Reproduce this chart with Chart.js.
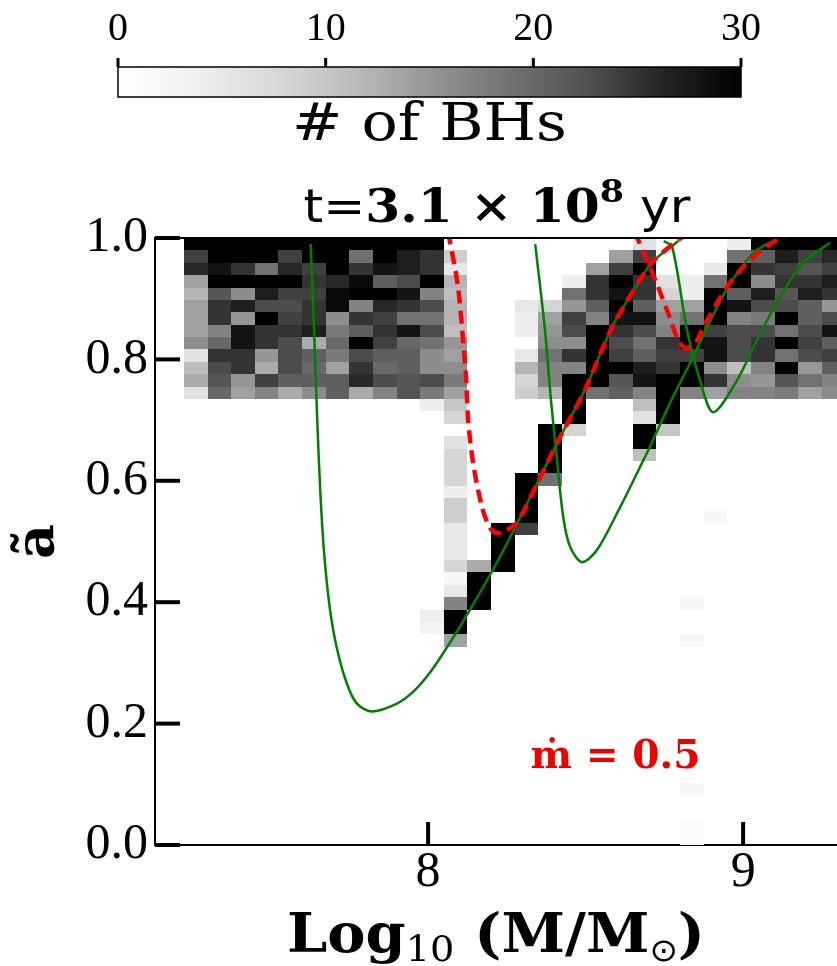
<!DOCTYPE html>
<html>
<head>
<meta charset="utf-8">
<script src="https://cdn.jsdelivr.net/npm/chart.js@4.4.1/dist/chart.umd.min.js"></script>
<style>
  html, body { margin: 0; padding: 0; background: #fff; }
  #wrap { position: relative; width: 837px; height: 966px; }
  #wrap canvas { position: absolute; left: 0; top: 0; }
</style>
</head>
<body>
<div id="wrap">
  <canvas id="graph" width="837" height="966"></canvas>
  <canvas id="cbar" width="837" height="165"></canvas>
</div>
<script>
// mass bins (log10 M/Msun), left edges, width 0.075
const massBins = [7.225, 7.3, 7.375, 7.45, 7.525, 7.6, 7.675, 7.75, 7.825, 7.9, 7.975, 8.05, 8.125, 8.2,
  8.275, 8.35, 8.425, 8.5, 8.575, 8.65, 8.725, 8.8, 8.875, 8.95, 9.025, 9.1, 9.175, 9.25];
const massStep = 0.075;
const spinStep = 1 / 49; // 49 spin bins between 0 and 1

// # of BHs per cell, spin bins 48 (top) down to 36, one column per mass bin
const topBin = 48;
const countsTop = [
  [30,30,30,30,30,30,30,30,30,30,30, 0, 0,0, 0, 0, 0, 0, 0, 6, 0, 0, 0, 4,30,30,30,30],
  [24,30,30,30,24,30,30,19,30,27,25, 9, 0,0, 0, 0, 0, 0,14,24, 0, 0, 0,19,21,27,24,26],
  [26,28,25,19,26,24,30,25,28,27,25, 5, 0,0, 0, 0, 0,14,24,30, 0, 0, 5,30,25,24,22,24],
  [14,30,30,30,30,25,26,29,21,23,30,12, 0,0, 0, 0, 4,25,30,25, 6, 4,19,30,16,25,25,27],
  [12,22,16,27,24,24,29,30,30,28,17,11, 0,0, 0, 0,19,25,28,25, 8, 4,30,21,27,22,27,25],
  [14,25,27,23,23,25,29,17,26,25,23,12, 0,0, 5, 8,15,21,30,21,14,14,30,28,23,23,21,15],
  [14,25,15,30,24,25,16,25,24,19,19,12, 0,0, 4,14,24,17,28,28,16,19,30,17,18,30,21,23],
  [14,17,28,25,25,27,18,21,25,28,23,11, 0,0, 4,15,23,30,25,23,17,30,24,23,23,19,23,28],
  [16,20,28,25,23,13,20,30,24,20,19,15, 0,0, 0,16,16,30,23,19,25,30,28,23,25,30,24,21],
  [ 6,25,25,15,23,21,18,23,21,21,16,14, 0,0, 5,19,25,30,24,21,24,24,28,23,25,19,23,24],
  [11,23,25,13,23,20,14,25,20,21,16,16, 0,0,12,17,17,30,30,27,25,30,16,11,17,30,15,21],
  [13,22,15,24,21,21,21,26,23,22,23,18, 0,0, 8,17,30,30,22,28,30,30,25,16,15,22,19,17],
  [ 6,20,14,17,13,16,21,13,17,22,18,14, 0,0, 9,12,30,19,21,17,30,17,14,17,17,18,14,16]
];
// cells below the block: [mass bin, spin bin, count]
const countsLow = [
  [10,35,4],[10,18,4],[10,17,3],
  [11,35,10],[11,34,8],[11,32,6],[11,31,8],[11,30,8],[11,29,8],[11,28,4],[11,27,9],[11,26,9],
  [11,25,5],[11,24,5],[11,23,5],[11,22,8],[11,21,2],[11,20,5],[11,19,17],[11,18,30],[11,17,30],[11,16,14],
  [12,22,13],[12,21,30],[12,20,30],[12,19,30],
  [13,25,30],[13,24,30],[13,23,30],[13,22,30],
  [14,29,30],[14,28,30],[14,27,30],[14,26,30],[14,25,24],
  [15,33,30],[15,32,30],[15,31,30],[15,30,30],[15,29,19],
  [16,35,30],[16,34,30],[16,33,8],
  [19,35,11],[19,34,6],[19,33,30],[19,32,30],[19,31,11],
  [20,35,30],[20,34,30],[20,33,10],
  [21,19,2],[21,16,2],[21,4,2],[21,1,1],[21,0,1],
  [22,26,2]
];

// curves [log10 M, a]
const redA = [[8.060,1.01],[8.067,1.0],[8.095,0.919],[8.111,0.832],[8.121,0.766],[8.127,0.700],[8.143,0.629],
  [8.171,0.557],[8.197,0.522],[8.219,0.514],[8.244,0.517],[8.283,0.532],[8.356,0.606],[8.419,0.672],
  [8.498,0.750],[8.584,0.853],[8.667,0.926],[8.711,0.960],[8.794,0.997],[8.82,1.005]];
const redB = [[8.655,1.01],[8.667,0.997],[8.721,0.931],[8.762,0.876],[8.794,0.832],[8.816,0.819],[8.848,0.827],
  [8.873,0.852],[8.949,0.919],[9.022,0.964],[9.108,0.997],[9.16,1.005]];
const greenA = [[7.627,0.99],[7.638,0.850],[7.648,0.700],[7.658,0.580],[7.670,0.480],[7.688,0.390],
  [7.710,0.325],[7.742,0.266],[7.774,0.233],[7.821,0.220],[7.901,0.233],[7.954,0.253],[8.006,0.284],
  [8.059,0.325],[8.112,0.369],[8.165,0.416],[8.218,0.465],[8.283,0.530],[8.356,0.606],[8.419,0.672],
  [8.498,0.750],[8.584,0.853],[8.667,0.926],[8.711,0.960],[8.794,0.995]];
const greenB = [[8.340,0.99],[8.371,0.848],[8.390,0.733],[8.406,0.651],[8.429,0.540],[8.451,0.491],[8.488,0.466],
  [8.536,0.486],[8.610,0.557],[8.673,0.623],[8.705,0.657],[8.768,0.728],[8.848,0.811],[8.886,0.853],
  [8.952,0.919],[9.032,0.975],[9.086,0.993]];
const greenC = [[8.748,0.995],[8.775,0.985],[8.822,0.848],[8.863,0.766],[8.905,0.713],[8.981,0.766],
  [9.044,0.832],[9.117,0.903],[9.190,0.959],[9.276,0.992]];

const xTicks = [8, 9];
const yTicks = [0, 0.2, 0.4, 0.6, 0.8, 1.0];
const cbarTicks = [0, 10, 20, 30];
const cbarMax = 30;

// matplotlib "Greys"
const greys = [255, 240, 217, 189, 150, 115, 82, 37, 0];
function greyFor(n) {
  const f = Math.min(n / cbarMax, 1) * 8;
  const i = Math.min(Math.floor(f), 7);
  const g = Math.round(greys[i] + (greys[i + 1] - greys[i]) * (f - i));
  return 'rgb(' + g + ',' + g + ',' + g + ')';
}

// draw text pieces squeezed/stretched to a width
function drawParts(ctx, parts, cx, base, width) {
  let total = 0;
  parts.forEach(p => { ctx.font = p.font; p.w = ctx.measureText(p.text).width; total += p.w; });
  const sx = width ? width / total : 1;
  ctx.save();
  ctx.translate(cx - total * sx / 2, base);
  ctx.scale(sx, 1);
  ctx.textBaseline = 'alphabetic';
  ctx.textAlign = 'left';
  let x = 0;
  parts.forEach(p => {
    ctx.font = p.font;
    ctx.fillStyle = p.color || '#000';
    ctx.fillText(p.text, x, p.dy || 0);
    x += p.w;
  });
  ctx.restore();
}

const heatmap = {
  id: 'heatmap',
  beforeDatasetsDraw(chart) {
    const {ctx, chartArea: ca, scales: {x, y}} = chart;
    ctx.save();
    ctx.beginPath();
    ctx.rect(ca.left, ca.top, ca.right - ca.left, ca.bottom - ca.top);
    ctx.clip();
    const cell = (k, j, n) => {
      if (!n) return;
      const x0 = Math.round(x.getPixelForValue(massBins[k]));
      const x1 = Math.round(x.getPixelForValue(massBins[k] + massStep));
      const y0 = Math.round(y.getPixelForValue((j + 1) * spinStep));
      const y1 = Math.round(y.getPixelForValue(j * spinStep));
      ctx.fillStyle = greyFor(n);
      ctx.fillRect(x0, y0, x1 - x0, y1 - y0);
    };
    countsTop.forEach((row, r) => row.forEach((n, k) => cell(k, topBin - r, n)));
    countsLow.forEach(([k, j, n]) => cell(k, j, n));
    ctx.restore();
  }
};

const frame = {
  id: 'frame',
  afterDraw(chart) {
    const {ctx, chartArea: ca, scales: {x, y}} = chart;
    ctx.save();
    ctx.fillStyle = '#000';
    // inward tick marks
    yTicks.forEach(v => {
      const py = y.getPixelForValue(v);
      ctx.fillRect(ca.left, py - 2, 25, 4);
    });
    xTicks.forEach(v => {
      const px = x.getPixelForValue(v);
      ctx.fillRect(px - 2, ca.bottom - 23, 4, 23);
    });
    // top spine
    ctx.fillRect(ca.left, ca.top - 1, ca.right - ca.left, 2);

    // annotation
    drawParts(ctx, [{text: 'ṁ = 0.5', font: 'bold 40px "DejaVu Serif"', color: '#ee0000'}],
      (x.getPixelForValue(8.325) + x.getPixelForValue(8.865)) / 2, y.getPixelForValue(0.127), 170);

    // title
    drawParts(ctx, [
      {text: 't=', font: '46px "DejaVu Sans"'},
      {text: '3.1 × 10', font: 'bold 46px "DejaVu Serif"'},
      {text: '8', font: 'bold 32px "DejaVu Serif"', dy: -20},
      {text: ' yr', font: '46px "DejaVu Sans"'}
    ], 497, 222, 387);

    // x axis title
    drawParts(ctx, [
      {text: 'Log', font: 'bold 54px "DejaVu Serif"'},
      {text: '10', font: '36px "DejaVu Serif"', dy: 9},
      {text: ' (M/M', font: 'bold 54px "DejaVu Serif"'},
      {text: '⊙', font: '32px "DejaVu Sans"', dy: 9},
      {text: ')', font: 'bold 54px "DejaVu Serif"'}
    ], (ca.left + ca.right) / 2, 952, 418);

    // y axis title
    ctx.translate(40, (ca.top + ca.bottom) / 2);
    ctx.rotate(-Math.PI / 2);
    ctx.font = 'bold 54px "DejaVu Serif"';
    ctx.textAlign = 'center';
    ctx.textBaseline = 'middle';
    ctx.fillText('ã', 0, 0);
    ctx.restore();
  }
};

const line = (pts, color, width, dash) => ({
  data: pts.map(([m, a]) => ({x: m, y: a})),
  borderColor: color,
  borderWidth: width,
  borderDash: dash || [],
  pointRadius: 0,
  tension: 0.3,
  fill: false
});

new Chart(document.getElementById('graph'), {
  type: 'line',
  data: {
    datasets: [
      line(redA, '#ff0000', 4.5, [13, 7]),
      line(redB, '#ff0000', 4.5, [13, 7]),
      line(greenA, '#008000', 2.5),
      line(greenB, '#008000', 2.5),
      line(greenC, '#008000', 2.5)
    ]
  },
  options: {
    responsive: false,
    animation: false,
    layout: {padding: {top: 238, right: 0, bottom: 0, left: 0}},
    plugins: {legend: {display: false}, tooltip: {enabled: false}},
    scales: {
      x: {
        type: 'linear', min: 7.133, max: 9.298,
        afterBuildTicks: s => { s.ticks = xTicks.map(v => ({value: v})); },
        afterFit: s => { s.height = 121; },
        grid: {display: false, drawTicks: false},
        border: {display: true, color: '#000', width: 2},
        ticks: {font: {family: 'Liberation Serif', size: 50, lineHeight: 1}, color: '#000', padding: 3,
          callback: v => String(v)}
      },
      y: {
        min: 0, max: 1,
        afterBuildTicks: s => { s.ticks = yTicks.map(v => ({value: v})); },
        afterFit: s => { s.width = 155; },
        grid: {display: false, drawTicks: false},
        border: {display: true, color: '#000', width: 2},
        ticks: {font: {family: 'Liberation Serif', size: 50}, color: '#000', padding: 7,
          callback: v => v.toFixed(1)}
      }
    }
  },
  plugins: [heatmap, frame]
});

const cbarDraw = {
  id: 'cbarDraw',
  afterDraw(chart) {
    const {ctx, chartArea: ca, scales: {x}} = chart;
    ctx.save();
    const grad = ctx.createLinearGradient(ca.left, 0, ca.right, 0);
    greys.forEach((g, i) => grad.addColorStop(i / 8, 'rgb(' + g + ',' + g + ',' + g + ')'));
    ctx.fillStyle = grad;
    ctx.fillRect(ca.left, ca.top, ca.right - ca.left, ca.bottom - ca.top);
    ctx.strokeStyle = '#000';
    ctx.lineWidth = 1.5;
    ctx.strokeRect(ca.left, ca.top, ca.right - ca.left, ca.bottom - ca.top);
    ctx.fillStyle = '#000';
    cbarTicks.forEach(v => {
      const px = x.getPixelForValue(v);
      ctx.fillRect(px - 1.5, ca.top - 9, 3, 9);
    });
    drawParts(ctx, [{text: '# of BHs', font: '52px "DejaVu Serif"'}], (ca.left + ca.right) / 2, 140, 275);
    ctx.restore();
  }
};

new Chart(document.getElementById('cbar'), {
  type: 'scatter',
  data: {datasets: []},
  options: {
    responsive: false,
    animation: false,
    layout: {padding: {left: 118, right: 837 - 741, top: 0, bottom: 165 - 97}},
    plugins: {legend: {display: false}, tooltip: {enabled: false}},
    scales: {
      x: {
        type: 'linear', position: 'top', min: 0, max: cbarMax,
        afterBuildTicks: s => { s.ticks = cbarTicks.map(v => ({value: v})); },
        afterFit: s => { s.height = 67; },
        grid: {display: false, drawTicks: false},
        border: {display: false},
        ticks: {font: {family: 'Liberation Serif', size: 40}, color: '#000', padding: 14}
      },
      y: {display: false}
    }
  },
  plugins: [cbarDraw]
});
</script>
</body>
</html>
